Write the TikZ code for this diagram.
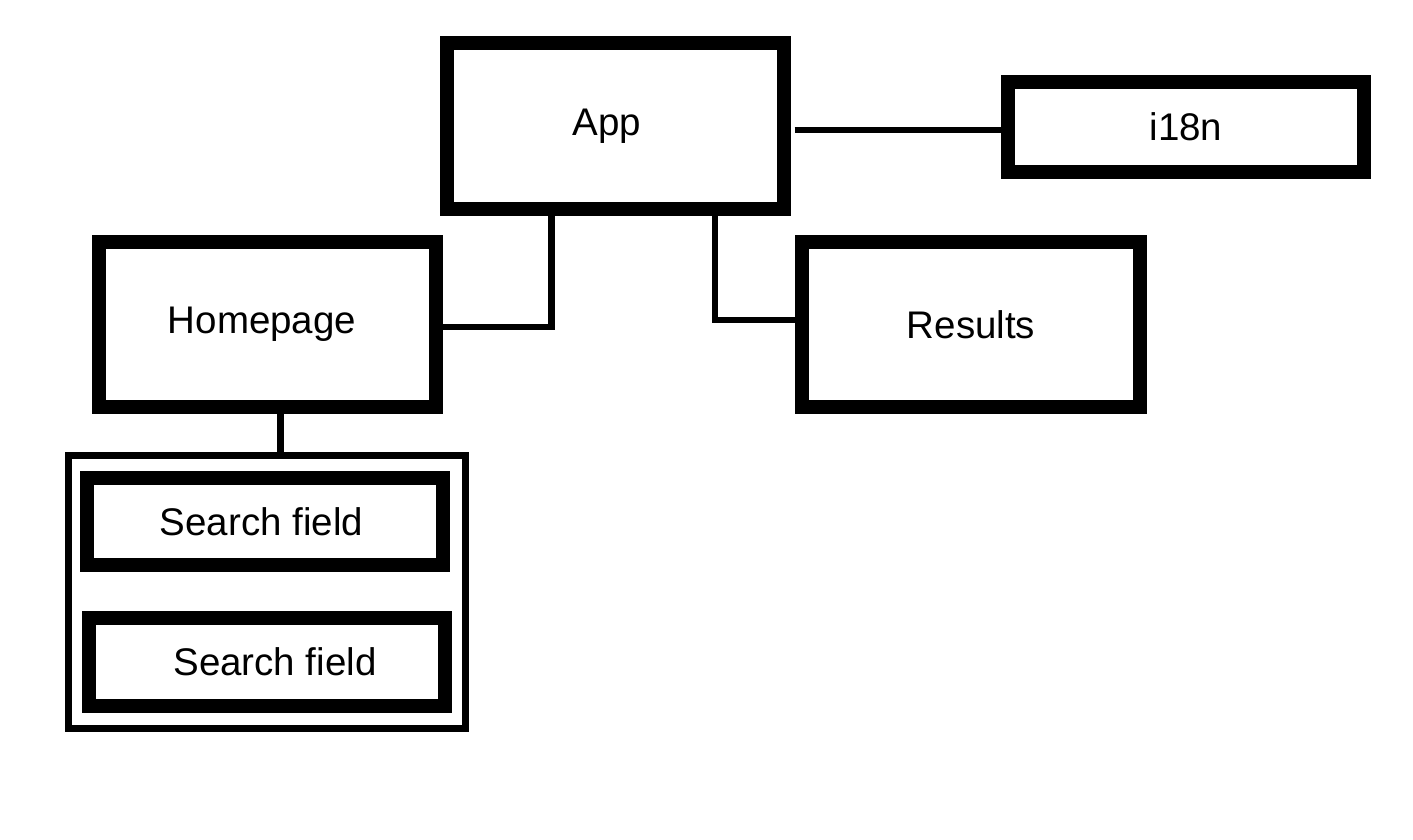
\documentclass[tikz,border=0pt]{standalone}
\usepackage{fontspec}
\setmainfont{Liberation Sans}
\begin{document}
\begin{tikzpicture}[x=1pt,y=-1pt,
    box/.style={draw,line width=14pt,rectangle,inner sep=0pt,
        font=\fontsize{38.5}{46}\selectfont},
    wire/.style={line width=6.5pt}]
                \useasboundingbox (0,0) rectangle (1413,840);
                \node[box,minimum width=337pt,minimum height=165pt] (app) at (615,126) {\hspace*{-16pt}App};
                \node[box,minimum width=356pt,minimum height=89pt] (i18n) at (1186,127) {i18n};
                \node[box,minimum width=337pt,minimum height=165pt] (home) at (267,324.5) {\hspace*{-10pt}Homepage};
                \node[box,minimum width=338pt,minimum height=165pt] (res) at (971,324.5) {Results};
                \node[draw,line width=6.7pt,minimum width=397pt,minimum height=272.5pt] (grp) at (267,592) {};
                \node[box,minimum width=356pt,minimum height=87pt] (sf1) at (265,521.5) {\hspace*{-7pt}Search field};
                \node[box,minimum width=356pt,minimum height=88pt] (sf2) at (267,661.7) {\hspace*{16pt}Search field};
                \draw[wire] ([xshift=4pt,yshift=-4pt]app.east) -- ([yshift=-3pt]i18n.west);
                \draw[wire] ([xshift=-63.5pt]app.south) |- ([yshift=-2.5pt]home.east);
                \draw[wire] ([xshift=100pt]app.south) |- ([yshift=4.5pt]res.west);
                \draw[wire] ([xshift=13.5pt]home.south) -- ([xshift=13.5pt]grp.north);
            \end{tikzpicture}
\end{document}
